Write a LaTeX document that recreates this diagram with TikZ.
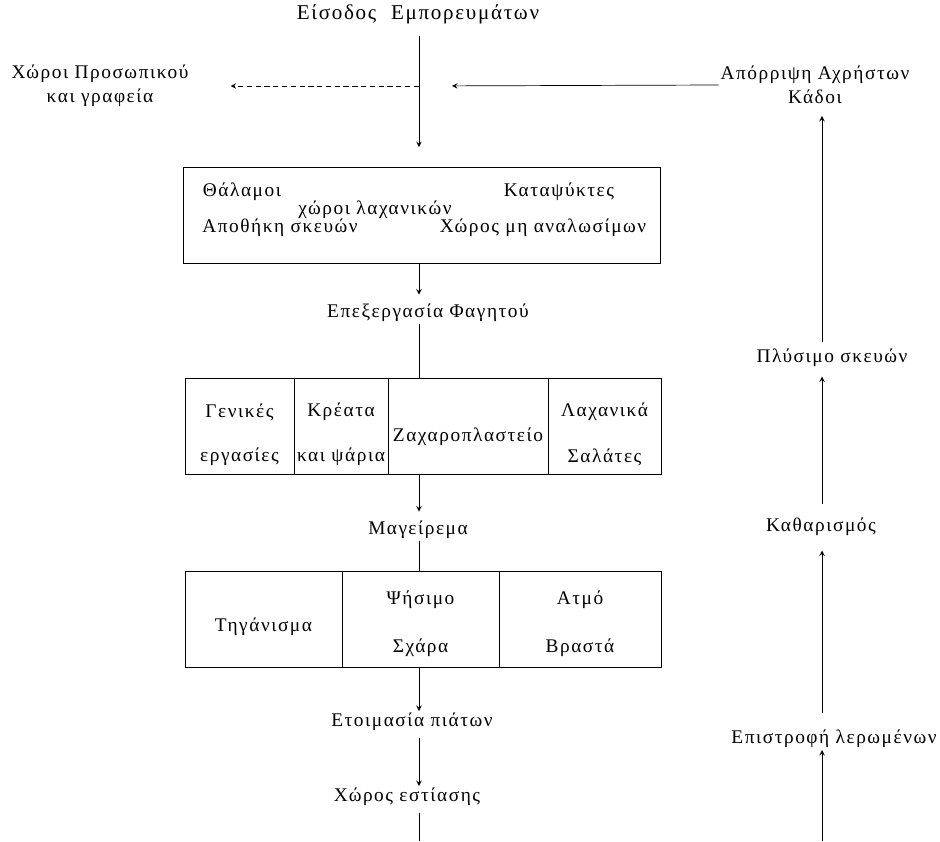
\documentclass[tikz,border=0pt]{standalone}
\usepackage{fontspec}
\setmainfont{Liberation Serif}[LetterSpace=8]
\usetikzlibrary{arrows}

\begin{document}
\begin{tikzpicture}[
    lbl/.style={font=\fontsize{11}{13.5}\selectfont, inner sep=1pt},
    room/.style={draw=black, thin, minimum height=1.92cm, inner sep=0pt},
    flow/.style={->, >=stealth, thin},
  ]
    \useasboundingbox (0,0) rectangle (18.8,-16.82);

    % top row
    \node[lbl, font=\fontsize{12}{14}\selectfont] (entry) at (8.36,-0.28) {Είσοδος\hspace{0.7em}Εμπορευμάτων};
    \node[lbl, align=center] (staff) at (2.0,-1.72) {Χώροι Προσωπικού\\και γραφεία};
    \node[lbl, align=center] (waste) at (16.3,-1.7) {Απόρριψη Αχρήστων\\Κάδοι};
    \coordinate (cross) at (8.38,-1.72);

    % storage
    \node[room, minimum width=9.54cm] (store) at (8.43,-4.31) {};
    \node[lbl] (chamb)  at (4.84,-3.84)  {Θάλαμοι};
    \node[lbl] (freez)  at (11.18,-3.84) {Καταψύκτες};
    \node[lbl] (veg)    at (7.5,-4.2)    {χώροι λαχανικών};
    \node[lbl] (dishes) at (5.6,-4.56)   {Αποθήκη σκευών};
    \node[lbl] (nonfd)  at (10.86,-4.56) {Χώρος μη αναλωσίμων};

    \node[lbl] (prep) at (8.56,-6.26) {Επεξεργασία Φαγητού};

    % preparation rooms
    \node[room, minimum width=2.18cm] (gen)   at (4.79,-8.52)  {};
    \node[room, minimum width=1.88cm] (meat)  at (6.82,-8.52)  {};
    \node[room, minimum width=3.2cm]  (pastr) at (9.36,-8.52)  {};
    \node[room, minimum width=2.26cm] (salad) at (12.09,-8.52) {};
    \node[lbl] at (4.79,-8.24) {Γενικές};
    \node[lbl] at (4.79,-9.14) {εργασίες};
    \node[lbl] at (6.82,-8.24) {Κρέατα};
    \node[lbl] at (6.82,-9.14) {και ψάρια};
    \node[lbl] at (9.36,-8.74) {Ζαχαροπλαστείο};
    \node[lbl] at (12.09,-8.24) {Λαχανικά};
    \node[lbl] at (12.09,-9.14) {Σαλάτες};

    \node[lbl] (cook) at (8.36,-10.6) {Μαγείρεμα};

    % cooking rooms
    \node[room, minimum width=3.14cm] (fry)   at (5.27,-12.39) {};
    \node[room, minimum width=3.14cm] (grill) at (8.41,-12.39) {};
    \node[room, minimum width=3.24cm] (steam) at (11.6,-12.39) {};
    \node[lbl] at (5.27,-12.54) {Τηγάνισμα};
    \node[lbl] at (8.41,-12.0)  {Ψήσιμο};
    \node[lbl] at (8.41,-12.96) {Σχάρα};
    \node[lbl] at (11.6,-12.0)  {Ατμό};
    \node[lbl] at (11.6,-12.96) {Βραστά};

    \node[lbl] (plate)  at (8.24,-14.44) {Ετοιμασία πιάτων};
    \node[lbl] (dining) at (8.14,-15.94) {Χώρος εστίασης};
    \coordinate (mbase) at (8.38,-16.82);

    % return line
    \node[lbl] (wash)  at (16.64,-7.16)  {Πλύσιμο σκευών};
    \node[lbl] (clean) at (16.42,-10.54) {Καθαρισμός};
    \node[lbl] (back)  at (16.68,-14.78) {Επιστροφή λερωμένων};
    \coordinate (rbase) at (16.44,-16.82);

    % main flow
    \draw[flow, shorten <=0.2cm, shorten >=0.4cm] (entry.south -| cross) -- (store.north -| cross);
    \draw[flow, shorten >=0.15cm] (store.south -| cross) -- (prep.north -| cross);
    \draw (prep.south -| cross) -- (meat.north -| cross);
    \draw[flow, shorten >=0.15cm] (meat.south -| cross) -- (cook.north -| cross);
    \draw (cook.south -| cross) -- (grill.north -| cross);
    \draw[flow] (grill.south -| cross) -- (plate.north -| cross);
    \draw[flow, shorten <=0.1cm] (plate.south -| cross) -- (dining.north -| cross);
    \draw[shorten <=0.1cm] (dining.south -| cross) -- (mbase);

    % staff and waste
    \draw[flow, shorten >=0.66cm] (waste.west) -- (cross);
    \draw[flow, densely dashed, shorten >=0.8cm] (cross) -- (staff.east);

    % dishes going back
    \draw[flow] (rbase) -- (back.south -| rbase);
    \draw[flow, shorten <=0.3cm, shorten >=0.25cm] (back.north -| rbase) -- (clean.south -| rbase);
    \draw[flow, shorten <=0.25cm, shorten >=0.15cm] (clean.north -| rbase) -- (wash.south -| rbase);
    \draw[flow, shorten <=0.1cm, shorten >=0.2cm] (wash.north -| rbase) -- (waste.south -| rbase);
\end{tikzpicture}
\end{document}
